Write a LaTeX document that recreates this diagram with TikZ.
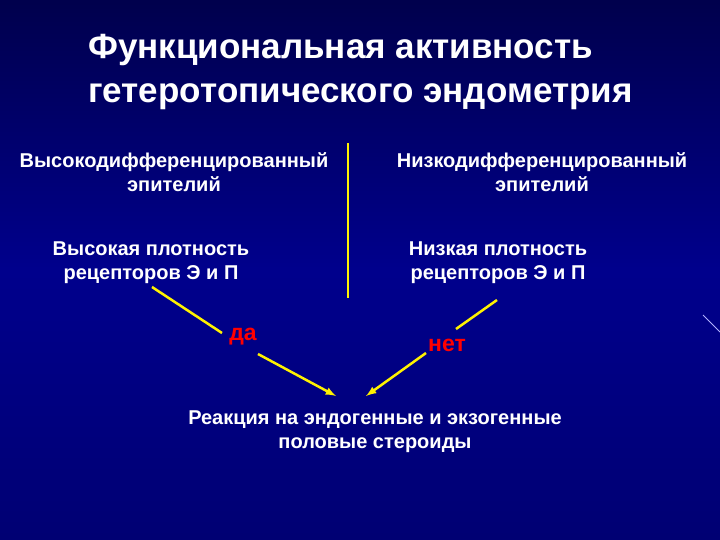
\documentclass[tikz,border=0pt]{standalone}
\usepackage{fontspec}
\setmainfont{Liberation Sans}
\begin{document}
\begin{tikzpicture}[x=1pt,y=-1pt,
 txt/.style={text=white,font=\bfseries\fontsize{20}{24}\selectfont,align=center,inner sep=0},
 lbl/.style={text=red,font=\bfseries\fontsize{23}{26}\selectfont,inner sep=0},
 yl/.style={yellow,line width=2.5pt},
 ya/.style={yellow,line width=2.5pt,-latex}]
\useasboundingbox (0,0) rectangle (720,540);
\shade[top color=black!70!blue, bottom color=blue!45!black, middle color=blue!55!black] (0,0) rectangle (720,540);
\node[text=white,font=\bfseries\fontsize{35}{44}\selectfont,align=left,anchor=north west,inner sep=0] (title) at (88,34) {Функциональная активность\\гетеротопического эндометрия};
\node[txt] (hd) at (174,172) {Высокодифференцированный\\эпителий};
\node[txt] (ld) at (542,172) {Низкодифференцированный\\эпителий};
\node[txt] (hp) at (151,263) {Высокая плотность\\рецепторов Э и П};
\node[txt] (lp) at (498,263) {Низкая плотность\\рецепторов Э и П};
\node[lbl] (da) at (243,337) {да};
\node[lbl] (net) at (447,345) {нет};
\node[txt] (r) at (375,432) {Реакция на эндогенные и экзогенные\\половые стероиды};
\coordinate (vt) at (348,143);
\coordinate (vb) at (348,298);
\draw[yellow,line width=1.5pt] (vt) -- (vb);
\coordinate (l1) at (152,287); \coordinate (l2) at (222,333);
\coordinate (l3) at (258,354); \coordinate (l4) at (336,396);
\coordinate (r1) at (497,300); \coordinate (r2) at (456,329);
\coordinate (r3) at (426,353); \coordinate (r4) at (366,396);
\draw[yl] (l1) -- (l2);
\draw[ya] (l3) -- (l4);
\draw[yl] (r1) -- (r2);
\draw[ya] (r3) -- (r4);
\coordinate (d1) at (703,315); \coordinate (d2) at (720,332);
\draw[blue!30!white,line width=0.8pt] (d1) -- (d2);
\end{tikzpicture}
\end{document}
